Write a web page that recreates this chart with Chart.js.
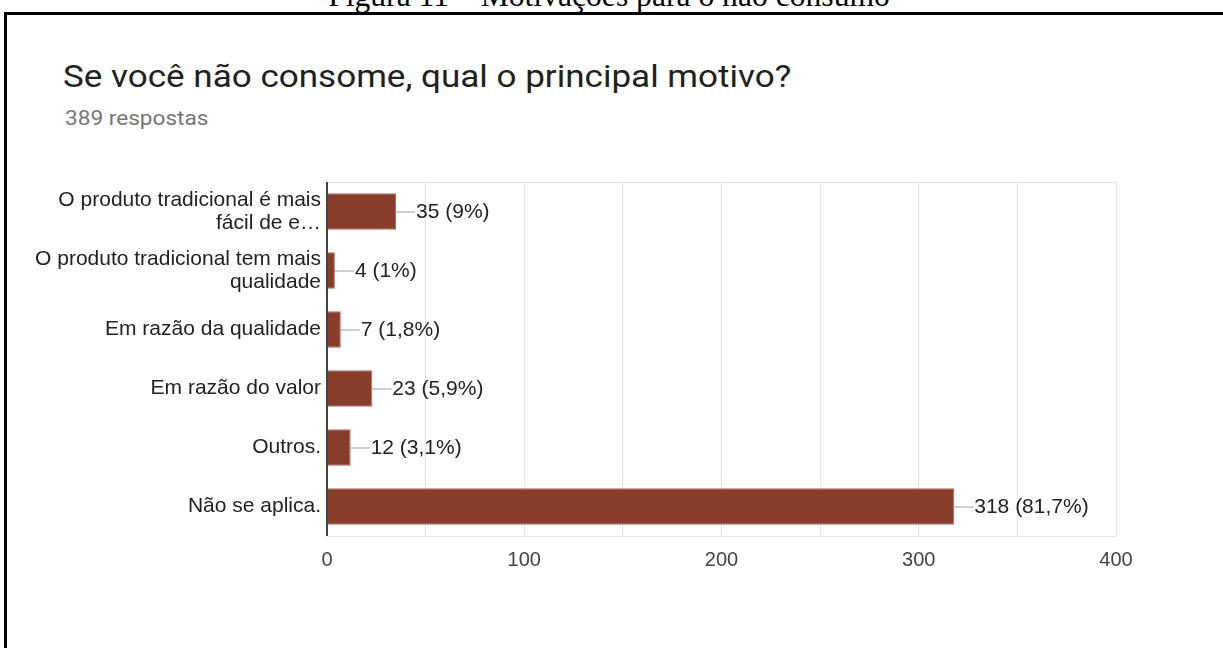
<!DOCTYPE html>
<html>
<head>
<meta charset="utf-8">
<title>Motivações para o não consumo</title>
<script src="https://cdn.jsdelivr.net/npm/chart.js"></script>
<style>
  html, body { margin: 0; padding: 0; background: #fff; overflow: hidden; }
  body { width: 1223px; height: 648px; position: relative; }
  #caption { position: absolute; left: 0; width: 1218px; top: -20px; text-align: center;
             font-family: "Liberation Serif", "Times New Roman", serif; font-size: 31px;
             line-height: 31px; color: #000; transform: scaleX(1.02); }
  #frame { position: absolute; left: 4px; top: 12px; width: 1400px; height: 800px;
           border: 3px solid #000; box-sizing: border-box; }
  #title { position: absolute; left: 63px; top: 58px; font-family: Roboto, Arial, sans-serif;
           font-size: 31px; color: #212121; white-space: nowrap;
           transform: scaleX(1.13); transform-origin: left top; }
  #subtitle { position: absolute; left: 65px; top: 106px; font-family: Roboto, Arial, sans-serif;
              font-size: 20px; color: #757575; white-space: nowrap;
              transform: scaleX(1.13); transform-origin: left top; }
  #chart { position: absolute; left: 0; top: 0; }
</style>
</head>
<body>
<div id="caption">Figura 11 – Motivações para o não consumo</div>
<div id="frame"></div>
<div id="title">Se você não consome, qual o principal motivo?</div>
<div id="subtitle">389 respostas</div>
<canvas id="chart" width="1223" height="648"></canvas>
<script>
// answers, counts and their shares
const categories = [
  ['O produto tradicional é mais', 'fácil de e…'],
  ['O produto tradicional tem mais', 'qualidade'],
  'Em razão da qualidade',
  'Em razão do valor',
  'Outros.',
  'Não se aplica.'
];
const counts = [35, 4, 7, 23, 12, 318];
const shares = ['9%', '1%', '1,8%', '5,9%', '3,1%', '81,7%'];
const xTicks = [0, 100, 200, 300, 400];

const sans = '"Liberation Sans", Arial, sans-serif';
const labelFont = '21px ' + sans;

// leader line + "n (p%)" next to each bar
const valueLabels = {
  id: 'valueLabels',
  afterDatasetsDraw(chart) {
    const ctx = chart.ctx;
    const meta = chart.getDatasetMeta(0);
    ctx.save();
    ctx.font = labelFont;
    ctx.textBaseline = 'middle';
    ctx.textAlign = 'left';
    meta.data.forEach((bar, i) => {
      const x = bar.x, y = bar.y;
      ctx.strokeStyle = '#9e9e9e';
      ctx.lineWidth = 1;
      ctx.beginPath();
      ctx.moveTo(x, y + 0.5);
      ctx.lineTo(x + 19, y + 0.5);
      ctx.stroke();
      ctx.fillStyle = '#222';
      ctx.fillText(counts[i] + ' (' + shares[i] + ')', x + 20, y + 1);
    });
    ctx.restore();
  }
};

// dark left axis line drawn over the grid, light top edge of the plot
const frameLines = {
  id: 'frameLines',
  afterDatasetsDraw(chart) {
    const a = chart.chartArea, ctx = chart.ctx;
    const x0 = chart.scales.x.getPixelForValue(0);
    ctx.save();
    ctx.strokeStyle = '#e6e6e6';
    ctx.lineWidth = 1;
    ctx.beginPath();
    ctx.moveTo(a.left, a.top + 0.5);
    ctx.lineTo(a.right, a.top + 0.5);
    ctx.stroke();
    ctx.strokeStyle = '#444';
    ctx.lineWidth = 2;
    ctx.beginPath();
    ctx.moveTo(x0, a.top);
    ctx.lineTo(x0, a.bottom);
    ctx.stroke();
    ctx.restore();
  }
};

new Chart(document.getElementById('chart'), {
  type: 'bar',
  data: {
    labels: categories,
    datasets: [{
      data: counts,
      backgroundColor: '#883c2a',
      borderColor: '#a8695b',
      borderWidth: 1,
      barPercentage: 0.62,
      categoryPercentage: 1
    }]
  },
  options: {
    indexAxis: 'y',
    responsive: false,
    animation: false,
    layout: { padding: { top: 182, right: 107, bottom: 72, left: 0 } },
    plugins: { legend: { display: false }, tooltip: { enabled: false } },
    scales: {
      x: {
        min: 0, max: 400,
        afterFit(s) { s.height = 40; },
        afterBuildTicks(s) {
          s.ticks = [0, 50, 100, 150, 200, 250, 300, 350, 400].map(v => ({ value: v }));
        },
        ticks: {
          padding: 12,
          color: '#444',
          font: { family: sans, size: 20 },
          callback: v => xTicks.includes(v) ? String(v) : ''
        },
        grid: { color: '#e6e6e6', drawTicks: false },
        border: { display: true, color: '#e6e6e6' }
      },
      y: {
        afterFit(s) { s.width = 327; },
        ticks: {
          padding: 6,
          color: '#222',
          font: { family: sans, size: 21, lineHeight: 1.1 }
        },
        grid: { display: false, drawTicks: false },
        border: { display: false }
      }
    }
  },
  plugins: [valueLabels, frameLines]
});
</script>
</body>
</html>
